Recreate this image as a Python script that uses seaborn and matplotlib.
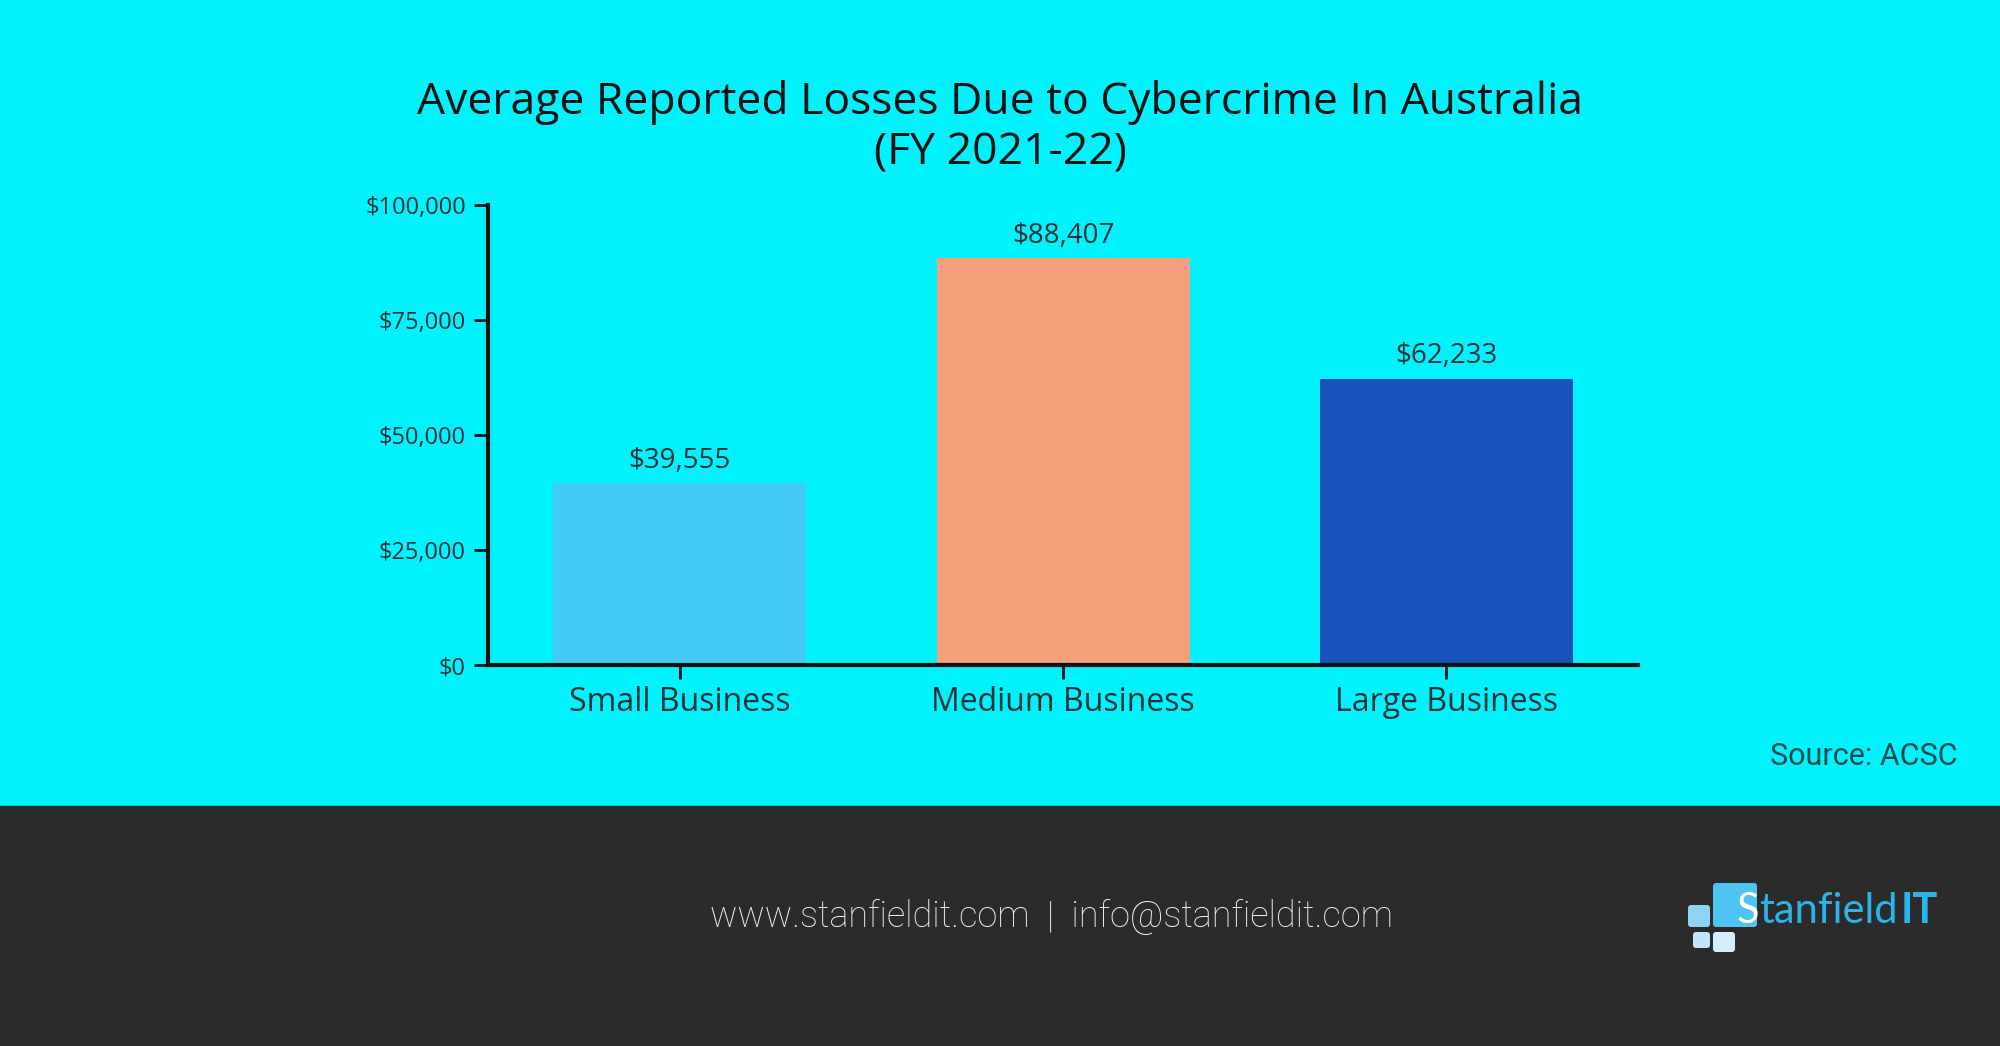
import numpy as np
import pandas as pd
import matplotlib.pyplot as plt
from matplotlib.patches import Rectangle, FancyBboxPatch
from matplotlib.ticker import FuncFormatter
import seaborn as sns

sns.set_style('ticks')
plt.rcParams['font.family'] = ['Open Sans', 'DejaVu Sans']

# data
categories = ['Small Business', 'Medium Business', 'Large Business']
losses = [39555, 88407, 62233]
bar_colors = ['#45C9F8', '#F4A07D', '#1A52BC']
y_ticks = [0, 25000, 50000, 75000, 100000]

title = 'Average Reported Losses Due to Cybercrime In Australia\n(FY 2021-22)'
source = 'Source: ACSC'
footer = 'www.stanfieldit.com  |  info@stanfieldit.com'

BG = '#00F3FD'
DARK = '#2B2B2B'
TXT = '#1E3236'

df = pd.DataFrame({'category': categories, 'loss': losses})

fig = plt.figure(figsize=(20, 10.46), dpi=100)
fig.patch.set_facecolor(BG)

# background layer in pixel coordinates (footer + logo)
bg = fig.add_axes([0, 0, 1, 1], zorder=0)
bg.set_xlim(0, 2000)
bg.set_ylim(1046, 0)
bg.axis('off')
bg.add_patch(Rectangle((0, 806), 2000, 240, color=DARK))
bg.text(1052, 917, footer, ha='center', va='center', fontsize=26,
        color='#F2F2F2', family='Roboto', fontweight='light')

# logo squares
sq = [(1688, 905, 22, 22, '#8FD3F5'), (1693, 932, 17, 16, '#BFE6FA'),
      (1713, 932, 22, 20, '#D3EEFC'), (1713, 883, 44, 44, '#4FC3F2')]
for x, y, w, h, c in sq:
    bg.add_patch(FancyBboxPatch((x, y), w, h, boxstyle='round,pad=0,rounding_size=3',
                                color=c, lw=0))
bg.text(1737, 911, 'S', ha='left', va='center', fontsize=30, color='white', family='Lato')
bg.text(1759, 911, 'tanfield', ha='left', va='center', fontsize=30, color='#2AB5E8', family='Lato')
bg.text(1938, 911, 'IT', ha='right', va='center', fontsize=30, color='#2AB5E8',
        family='Lato', fontweight='bold')

# main chart
ax = fig.add_axes([0.244, 0.3642, 0.575, 0.4398], zorder=1)
ax.patch.set_alpha(0)
sns.barplot(data=df, x='category', y='loss', hue='category', palette=bar_colors,
            width=0.66, legend=False, ax=ax, saturation=1, linewidth=0)

ax.set_xlim(-0.5, 2.5)
ax.set_ylim(0, 100000)
ax.set_yticks(y_ticks)
ax.yaxis.set_major_formatter(FuncFormatter(lambda v, p: f'${v:,.0f}'))
ax.set_xlabel('')
ax.set_ylabel('')

for i, v in enumerate(losses):
    ax.text(i, v + 1800, f'${v:,}', ha='center', va='bottom', fontsize=20, color=TXT)

sns.despine(ax=ax)
for s in ['left', 'bottom']:
    ax.spines[s].set_linewidth(3)
    ax.spines[s].set_color('#111111')
ax.tick_params(axis='y', length=10, width=2, color='#111111', labelsize=17,
               labelcolor=TXT, pad=6)
ax.tick_params(axis='x', length=10, width=2, color='#111111', labelsize=23,
               labelcolor=TXT, pad=5)

fig.text(0.5, 0.878, title, ha='center', va='center', fontsize=32, color='#111111',
         linespacing=1.2)
fig.text(0.979, 0.277, source, ha='right', va='center', fontsize=22, color='#124A4E',
         family='Roboto')

fig.savefig('out.png', dpi=100, facecolor=fig.get_facecolor())
